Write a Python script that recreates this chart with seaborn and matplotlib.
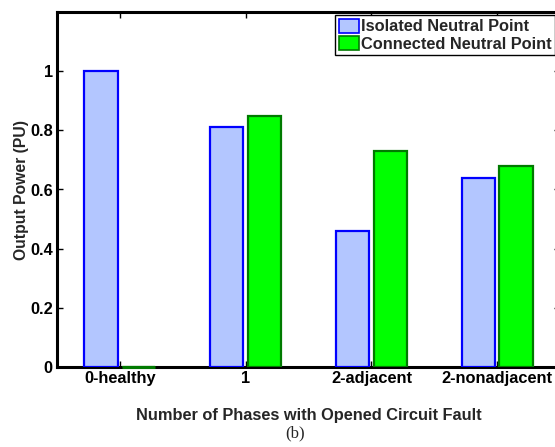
import matplotlib
matplotlib.use("Agg")
import matplotlib.pyplot as plt
import seaborn as sns
import pandas as pd
from matplotlib.patches import Patch

categories = ["0-healthy", "1", "2-adjacent", "2-nonadjacent"]
isolated = [1.0, 0.81, 0.46, 0.64]
connected = [0.0, 0.85, 0.73, 0.68]
series_names = ["Isolated Neutral Point", "Connected Neutral Point"]
y_ticks = [0, 0.2, 0.4, 0.6, 0.8, 1]

df = pd.DataFrame({
    "cat": categories * 2,
    "val": isolated + connected,
    "series": [series_names[0]] * 4 + [series_names[1]] * 4,
})

sns.set_theme(style="white")
plt.rcParams["font.family"] = ["Liberation Sans", "DejaVu Sans"]

W, H = 555, 447
fig = plt.figure(figsize=(W / 100, H / 100), dpi=100)
ax = fig.add_axes([57 / W, (H - 367) / H, (560 - 57) / W, (367 - 12) / H])

face = {series_names[0]: "#b3c6ff", series_names[1]: "#00ff00"}
edge = {series_names[0]: "#0000ff", series_names[1]: "#007a00"}

sns.barplot(data=df, x="cat", y="val", hue="series", order=categories,
            hue_order=series_names, palette=face, saturation=1, width=0.6,
            gap=0.12, ax=ax, legend=False)

for cont, name in zip(ax.containers, series_names):
    for bar in cont:
        bar.set_edgecolor(edge[name])
        bar.set_linewidth(1.6)
        bar.set_zorder(3)
        if bar.get_height() == 0:
            # zero-valued bar: show its edge as a flat line on the baseline
            ax.hlines(bar.get_y(), bar.get_x(), bar.get_x() + bar.get_width(),
                      colors=edge[name], linewidth=2.2, zorder=4, clip_on=False)

ax.set_xlim(-0.5, 3.5)
ax.set_ylim(0, 1.2)
ax.set_yticks(y_ticks)
ax.set_yticklabels(["0", "0.2", "0.4", "0.6", "0.8", "1"])

for s in ax.spines.values():
    s.set_visible(True)
    s.set_color("black")
    s.set_linewidth(2.2)
    s.set_zorder(2.5)

ax.tick_params(axis="both", direction="in", length=4, width=1, colors="black",
               top=True, right=True, bottom=True, left=True, labelsize=11.8, pad=3)
for lab in ax.get_xticklabels() + ax.get_yticklabels():
    lab.set_fontweight("bold")

ax.set_xlabel("Number of Phases with Opened Circuit Fault", fontsize=11.8,
              fontweight="bold", labelpad=16)
ax.set_ylabel("Output Power (PU)", fontsize=11.3, fontweight="bold", labelpad=1)

handles = [Patch(facecolor=face[n], edgecolor=edge[n], linewidth=1.2) for n in series_names]
leg = ax.legend(handles, series_names, loc="upper right",
                bbox_to_anchor=(558 / W, 1 - 12 / H), bbox_transform=fig.transFigure,
                frameon=True, fancybox=False, framealpha=1, edgecolor="black",
                prop={"weight": "bold", "size": 11.8}, handlelength=1.25,
                handleheight=0.95, handletextpad=0.1, borderpad=0.22,
                labelspacing=0.1, borderaxespad=0.18)
leg.get_frame().set_linewidth(1.0)
leg.set_zorder(5)

fig.text(295 / W, 1 - 433 / H, "(b)", ha="center", va="center",
         fontsize=12, family=["Liberation Serif", "DejaVu Serif"])

fig.savefig("out.png", dpi=100)
